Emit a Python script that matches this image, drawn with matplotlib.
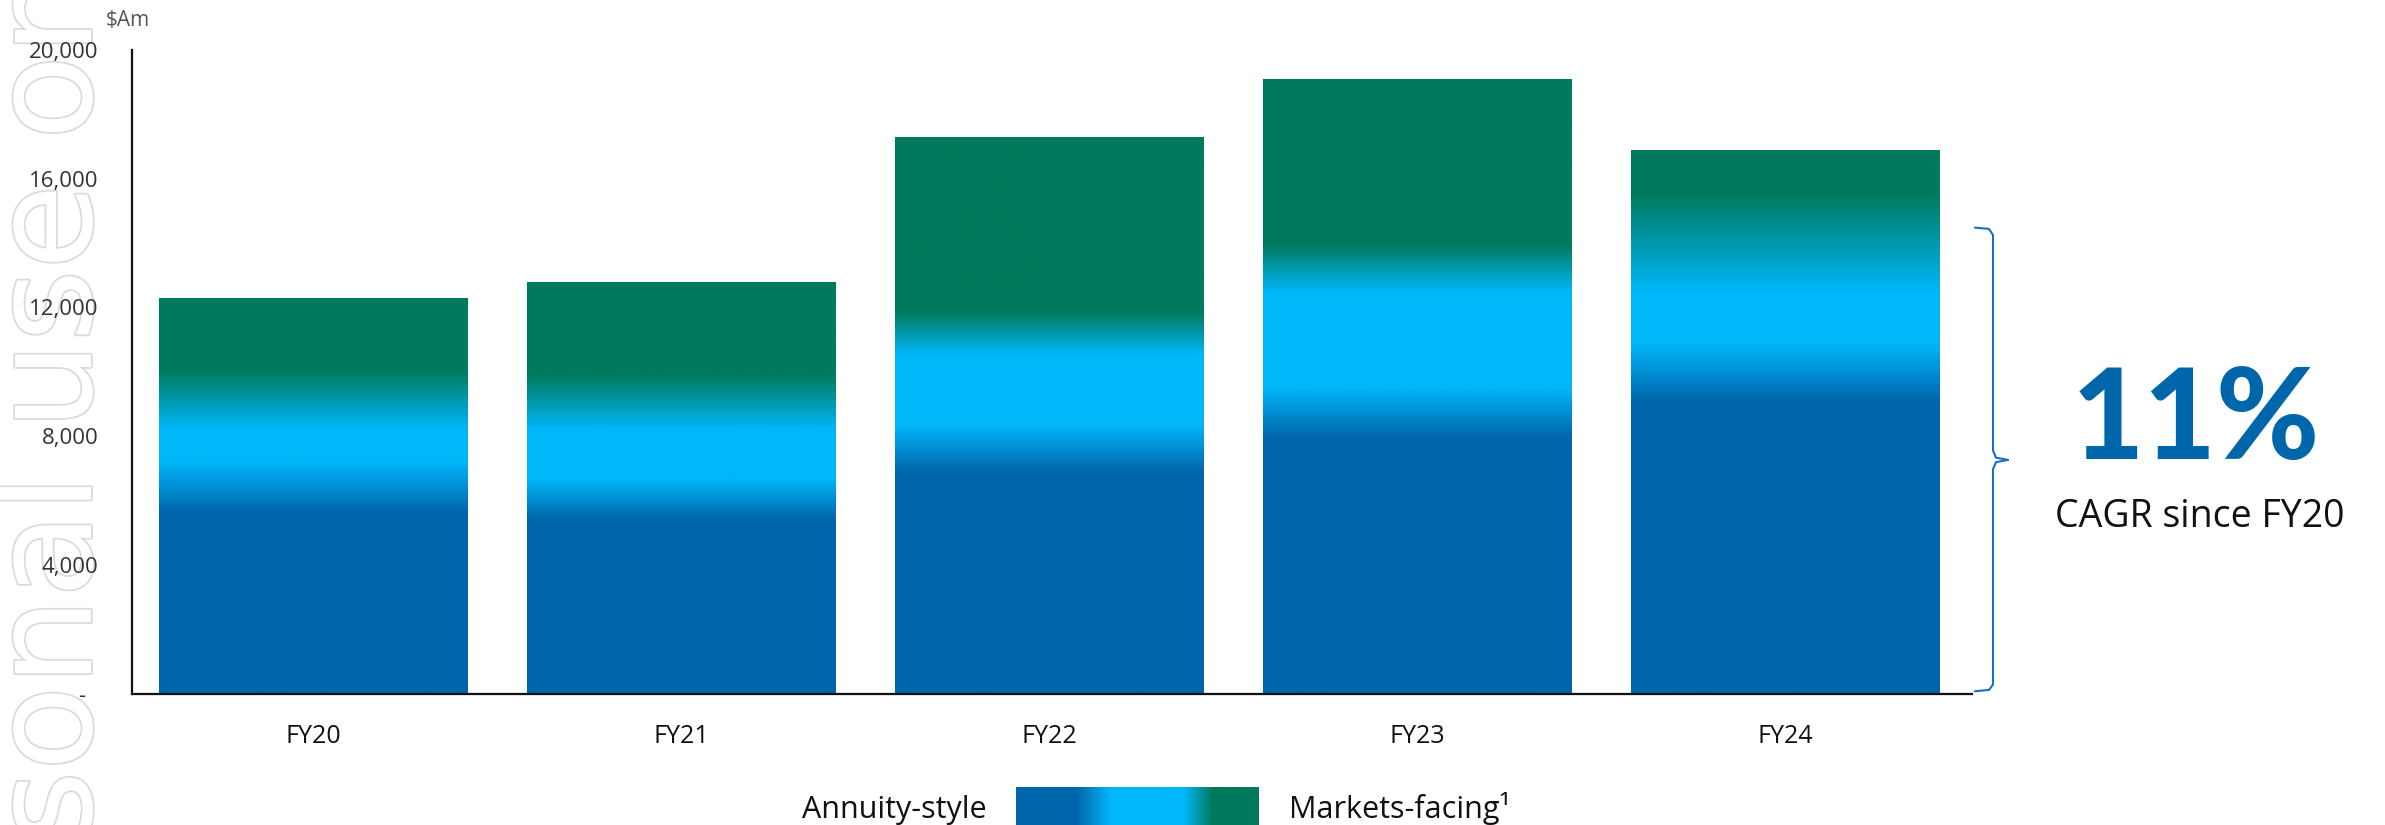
import matplotlib

matplotlib.use("Agg")
import matplotlib.pyplot as plt
import numpy as np
from matplotlib import patheffects
from matplotlib.transforms import blended_transform_factory

plt.rcParams["font.family"] = ["Open Sans", "DejaVu Sans"]

# Funds under management by year ($Am), with the gradient breakpoints for
# the annuity-style (blue) to markets-facing (green) mix in each bar.
years = ["FY20", "FY21", "FY22", "FY23", "FY24"]
totals = [12300, 12800, 17300, 19100, 16900]
annuity_top = [5600, 5400, 6850, 7950, 9050]
blend_low = [7200, 6650, 8350, 9500, 10900]
blend_high = [8200, 8200, 10500, 12450, 12450]
markets_base = [10050, 9900, 11850, 13950, 15550]

yticks = [0, 4000, 8000, 12000, 16000, 20000]
cagr_label = "11%"
cagr_note = "CAGR since FY20"

DARK_BLUE = np.array([0, 102, 172]) / 255
LIGHT_BLUE = np.array([0, 183, 250]) / 255
GREEN = np.array([0, 122, 92]) / 255
BRACE_BLUE = "#1a6fc0"

W, H = 2385, 825
fig = plt.figure(figsize=(W / 100, H / 100), dpi=100)
ax = fig.add_axes([132 / W, 1 - 693.5 / H, (1972 - 132) / W, (693.5 - 50) / H])


def column_colors(stops, values):
    pos = [s[0] for s in stops]
    cols = np.array([s[1] for s in stops])
    return np.stack([np.interp(values, pos, cols[:, c]) for c in range(3)], axis=-1)


x = np.arange(len(years))
bar_w = 0.837
bars = ax.bar(x, totals, width=bar_w, color="none", edgecolor="none")
for i, b in enumerate(bars):
    vals = np.linspace(0, totals[i], 600)
    stops = [
        (0, DARK_BLUE), (annuity_top[i], DARK_BLUE),
        (blend_low[i], LIGHT_BLUE), (blend_high[i], LIGHT_BLUE),
        (markets_base[i], GREEN), (totals[i], GREEN),
    ]
    img = column_colors(stops, vals)[:, None, :]
    im = ax.imshow(img, extent=[x[i] - bar_w / 2, x[i] + bar_w / 2, 0, totals[i]],
                   origin="lower", aspect="auto", interpolation="bilinear", zorder=2)
    im.set_clip_path(b)

ax.set_xlim(-0.492, len(years) - 1 + 0.508)
ax.set_ylim(0, 20000)
ax.set_xticks(x)
ax.set_xticklabels(years, fontsize=18, family=["Liberation Sans Narrow", "Open Sans", "DejaVu Sans"])
ax.set_yticks(yticks)
ax.set_yticklabels([f"{v:,}" if v else "-\u2007" for v in yticks], fontsize=16)
ax.tick_params(axis="y", length=0, pad=24, colors="#333333")
ax.tick_params(axis="x", length=0, pad=22, colors="#111111")
for side in ("top", "right"):
    ax.spines[side].set_visible(False)
for side in ("left", "bottom"):
    ax.spines[side].set_linewidth(1.6)
    ax.spines[side].set_color("#111111")

fig.text(106 / W, 1 - 21 / H, "$Am", fontsize=15, color="#555555", va="center", ha="left")

# curly brace next to FY24
bt = blended_transform_factory(fig.transFigure, ax.transData)
px = lambda v: v / W
upper = [(1975, 14480), (1989, 14440), (1993, 14250), (1993, 7550), (1996, 7330), (2008, 7260)]
lower = [(2008, 7260), (1996, 7190), (1993, 6970), (1993, 280), (1989, 110), (1975, 70)]
for seg in (upper, lower):
    ax.plot([px(p[0]) for p in seg], [p[1] for p in seg], color=BRACE_BLUE, lw=1.5,
            transform=bt, clip_on=False, solid_capstyle="round", solid_joinstyle="round")

fig.text(2196 / W, 1 - 423 / H, cagr_label, fontsize=90, fontweight="black",
         family=["Lato", "DejaVu Sans"], color="#0066ac", ha="center", va="center")
fig.text(2200 / W, 1 - 517 / H, cagr_note, fontsize=27, color="#111111",
         ha="center", va="center")

# legend: gradient swatch between the two labels
lax = fig.add_axes([1016 / W, 0, (1259 - 1016) / W, (825 - 787) / H])
gx = np.linspace(0, 1, 400)
lstops = [(0, DARK_BLUE), (0.25, DARK_BLUE), (0.39, LIGHT_BLUE), (0.69, LIGHT_BLUE),
          (0.81, GREEN), (1, GREEN)]
lax.imshow(column_colors(lstops, gx)[None, :, :], aspect="auto", extent=[0, 1, 0, 1])
lax.axis("off")
fig.text(987 / W, 1 - 818 / H, "Annuity-style", fontsize=22, color="#111111",
         ha="right", va="baseline")
fig.text(1289 / W, 1 - 818 / H, "Markets-facing\u00b9", fontsize=22, color="#111111",
         ha="left", va="baseline")

# outlined watermark down the left edge, kept behind the axes
wm = fig.text(91 / W, 1 - 1335 / H, "For personal use only", fontsize=100, rotation=90,
              rotation_mode="anchor", ha="left", va="baseline", color="white",
              family="DejaVu Sans", zorder=-5)
wm.set_path_effects([patheffects.Stroke(linewidth=2.5, foreground="#dadada"), patheffects.Normal()])

fig.savefig("out.png", dpi=100, facecolor="white")
